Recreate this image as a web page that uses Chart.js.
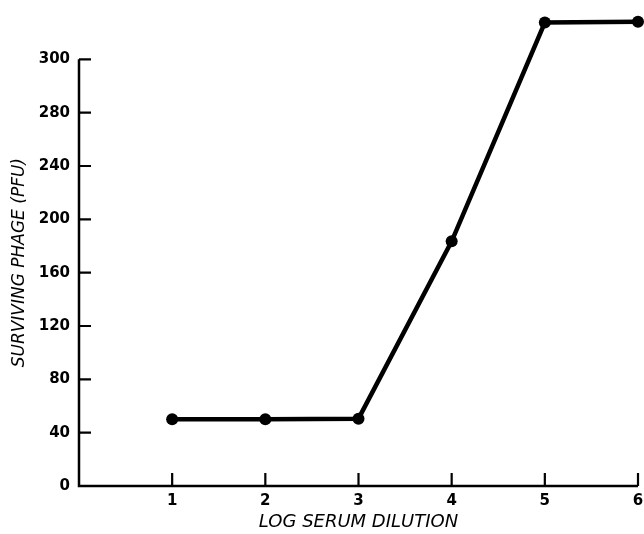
<!DOCTYPE html>
<html>
<head>
<meta charset="utf-8">
<script src="https://cdn.jsdelivr.net/npm/chart.js@4/dist/chart.umd.min.js"></script>
<style>
  html, body { margin: 0; padding: 0; background: #fff; }
  #wrap { width: 644px; height: 534px; position: relative; }
</style>
</head>
<body>
<div id="wrap"><canvas id="c"></canvas></div>
<script>
// Data
const logDilution = [1, 2, 3, 4, 5, 6];
const survivingPFU = [50, 50, 50.5, 183.5, 347.6, 348.1];
// Tick values and the labels printed on the original axis (top label printed as "300")
const yTickValues = [0, 40, 80, 120, 160, 200, 240, 280, 320];
const yTickLabels = ["0", "40", "80", "120", "160", "200", "240", "280", "300"];
const xTickValues = [1, 2, 3, 4, 5, 6];
const xTickLabels = ["1", "2", "3", "4", "5", "6"];

const xTitle = "LOG SERUM DILUTION";
const yTitle = "SURVIVING PHAGE (PFU)";

const axisDecor = {
  id: 'axisDecor',
  afterDatasetsDraw(chart) {
    const ctx = chart.ctx;
    const xs = chart.scales.x, ys = chart.scales.y;
    const area = chart.chartArea;
    const y0 = ys.getPixelForValue(0);
    const yTop = ys.getPixelForValue(yTickValues[yTickValues.length - 1]);
    ctx.save();
    ctx.strokeStyle = '#000';
    // axis lines
    ctx.lineWidth = 2.5;
    ctx.beginPath();
    ctx.moveTo(area.left, yTop);
    ctx.lineTo(area.left, y0);
    ctx.lineTo(area.right, y0);
    ctx.stroke();
    // inward tick marks
    ctx.lineWidth = 2.2;
    ctx.beginPath();
    xTickValues.forEach(v => {
      const px = xs.getPixelForValue(v);
      ctx.moveTo(px, y0);
      ctx.lineTo(px, y0 - 13);
    });
    yTickValues.forEach(v => {
      if (v === 0) return;
      const py = ys.getPixelForValue(v);
      ctx.moveTo(area.left, py);
      ctx.lineTo(area.left + 12, py);
    });
    ctx.stroke();
    // y axis title
    ctx.fillStyle = '#000';
    ctx.font = 'oblique 17px "DejaVu Sans"';
    ctx.textAlign = 'center';
    ctx.textBaseline = 'middle';
    ctx.translate(20, (yTop + y0) / 2 - 10);
    ctx.rotate(-Math.PI / 2);
    ctx.fillText(yTitle, 0, 0);
    ctx.restore();
  }
};

new Chart(document.getElementById('c'), {
  type: 'line',
  data: {
    datasets: [{
      data: logDilution.map((x, i) => ({ x: x, y: survivingPFU[i] })),
      borderColor: '#000',
      backgroundColor: '#000',
      borderWidth: 4.5,
      pointRadius: 6,
      pointBackgroundColor: '#000',
      pointBorderColor: '#000',
      pointBorderWidth: 0,
      tension: 0,
      clip: false
    }]
  },
  options: {
    responsive: true,
    maintainAspectRatio: false,
    animation: false,
    events: [],
    layout: { padding: { top: 3.4, right: 4.5, left: 0, bottom: 0 } },
    plugins: { legend: { display: false }, tooltip: { enabled: false } },
    scales: {
      x: {
        type: 'linear',
        min: 0, max: 6,
        afterBuildTicks(scale) { scale.ticks = [0].concat(xTickValues).map(v => ({ value: v })); },
        afterFit(scale) { scale.height = 48; scale.paddingLeft = 0; scale.paddingRight = 0; },
        ticks: {
          color: '#000',
          padding: 6,
          maxRotation: 0,
          autoSkip: false,
          font: { family: 'DejaVu Sans', weight: 'bold', size: 15 },
          callback(v) { const i = xTickValues.indexOf(v); return i >= 0 ? xTickLabels[i] : ''; }
        },
        grid: { display: false, drawTicks: false },
        border: { display: false },
        title: {
          display: true, text: xTitle, color: '#000',
          font: { family: 'DejaVu Sans', style: 'oblique', size: 18 },
          padding: { top: 0, bottom: 1 }
        }
      },
      y: {
        type: 'linear',
        min: 0, max: 360,
        afterBuildTicks(scale) { scale.ticks = yTickValues.map(v => ({ value: v })); },
        afterFit(scale) { scale.width = 79; scale.paddingTop = 0; scale.paddingBottom = 0; },
        ticks: {
          color: '#000',
          padding: 9,
          autoSkip: false,
          font: { family: 'DejaVu Sans', weight: 'bold', size: 15 },
          callback(v) { const i = yTickValues.indexOf(v); return i >= 0 ? yTickLabels[i] : ''; }
        },
        grid: { display: false, drawTicks: false },
        border: { display: false }
      }
    }
  },
  plugins: [axisDecor]
});
</script>
</body>
</html>
